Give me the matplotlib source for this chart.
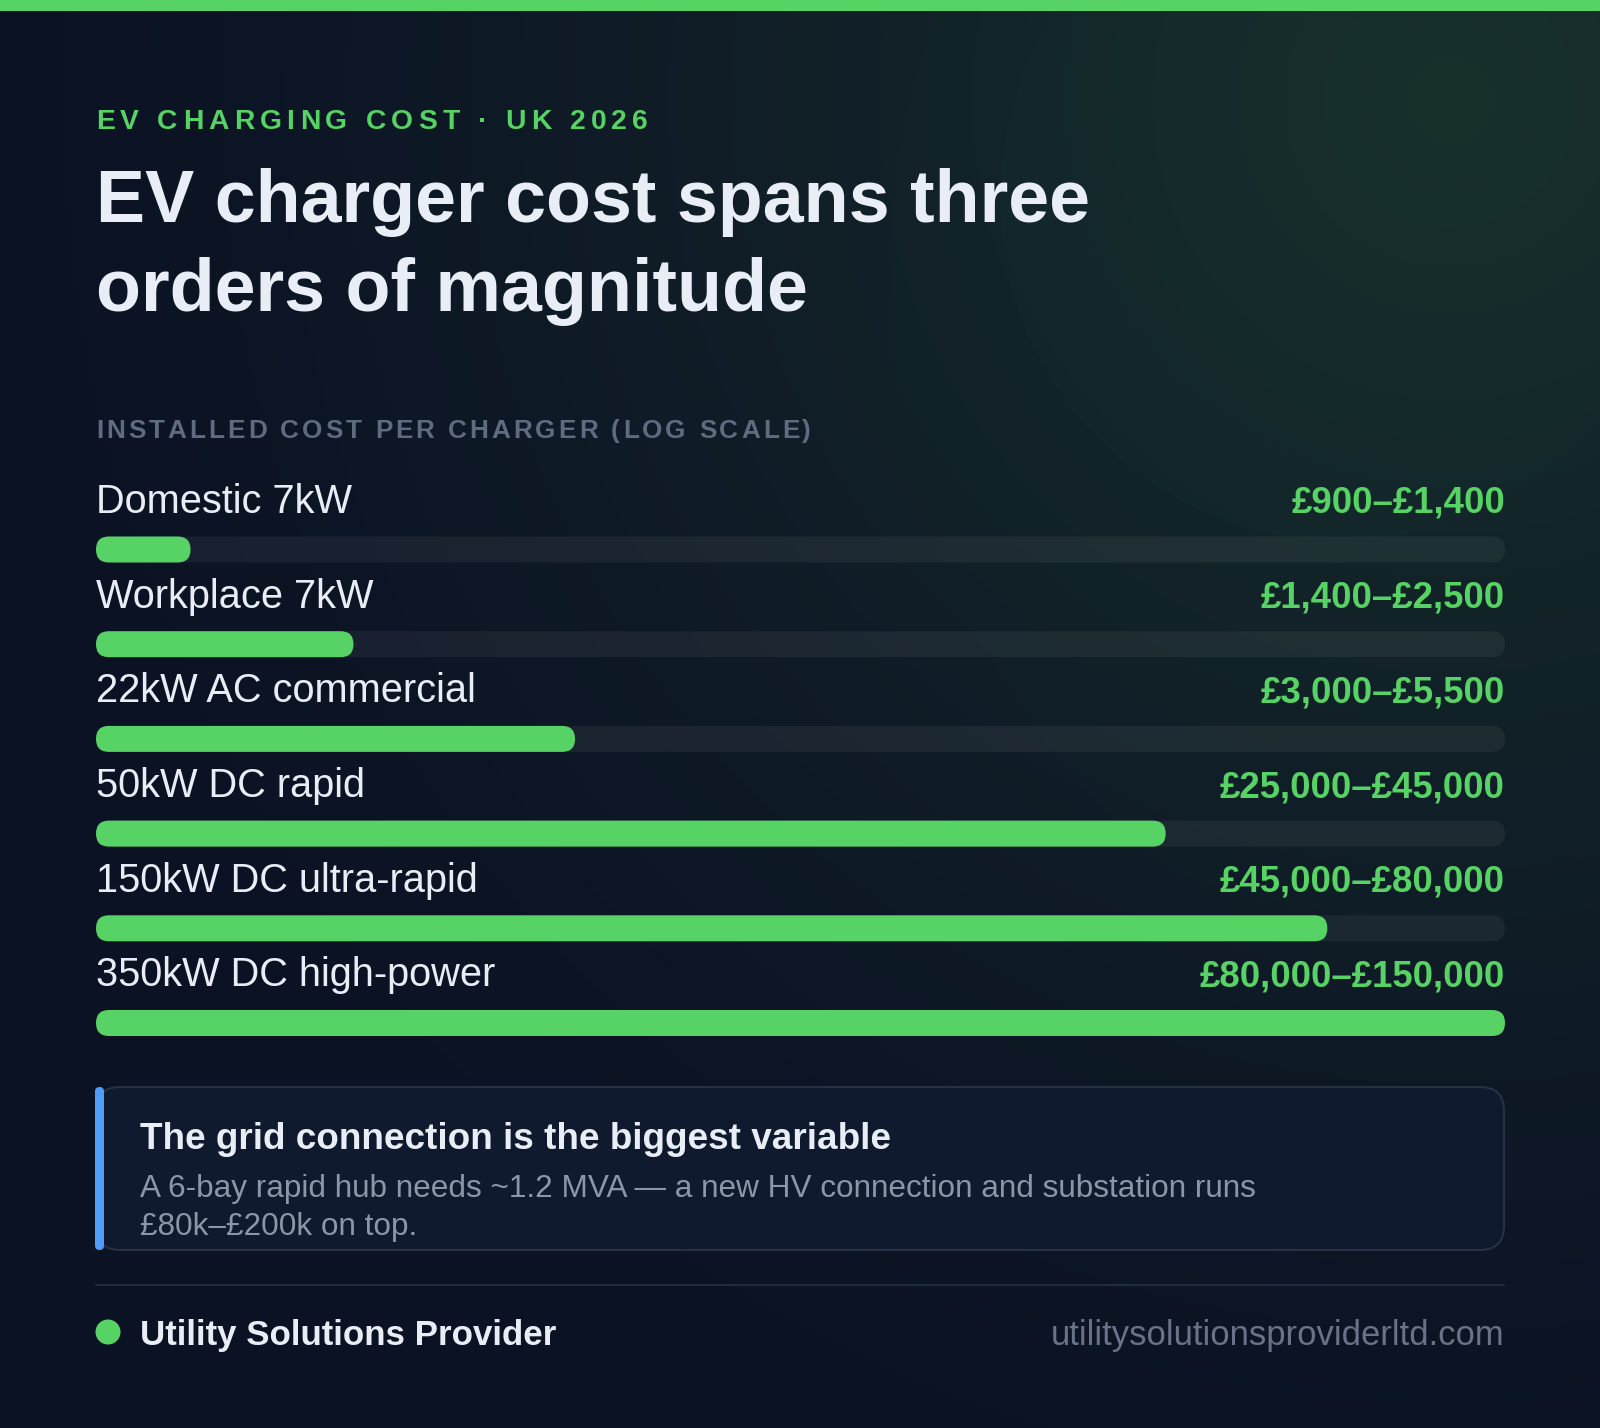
import numpy as np
import matplotlib
matplotlib.use("Agg")
import matplotlib.pyplot as plt
from matplotlib.patches import FancyBboxPatch, Circle, Rectangle
from matplotlib.font_manager import FontProperties
from matplotlib.textpath import TextToPath

# ---------------- data ----------------
eyebrow = "EV CHARGING COST · UK 2026"
title_lines = ["EV charger cost spans three", "orders of magnitude"]
axis_caption = "INSTALLED COST PER CHARGER (LOG SCALE)"
categories = ["Domestic 7kW", "Workplace 7kW", "22kW AC commercial",
              "50kW DC rapid", "150kW DC ultra-rapid", "350kW DC high-power"]
cost_low = [900, 1400, 3000, 25000, 45000, 80000]
cost_high = [1400, 2500, 5500, 45000, 80000, 150000]
scale_min, scale_max = 1000, 150000
note_title = "The grid connection is the biggest variable"
note_lines = ["A 6-bay rapid hub needs ~1.2 MVA — a new HV connection and substation runs",
              "£80k–£200k on top."]
brand = "Utility Solutions Provider"
url = "utilitysolutionsproviderltd.com"

range_labels = [f"£{lo:,}–£{hi:,}" for lo, hi in zip(cost_low, cost_high)]

# ---------------- style ----------------
W, H, DPI = 1600, 1428, 100
FAMILY = ["Liberation Sans", "DejaVu Sans"]
GREEN = "#56d364"
WHITE = "#e9eef6"
CAPTION = "#5f6b81"
BODY = "#8b96a8"
URLC = "#687387"
BLUE = "#4f9df7"

fig = plt.figure(figsize=(W / DPI, H / DPI), dpi=DPI)
ax = fig.add_axes([0, 0, 1, 1])
ax.set_xlim(0, W)
ax.set_ylim(H, 0)
ax.axis("off")

# background gradient
yy, xx = np.mgrid[0:H, 0:W]
base = np.array([11, 18, 36]) / 255.0
tint = np.array([24, 46, 44]) / 255.0
d = np.hypot(xx - 1450, yy - 100)
w = np.clip(1 - d / 1500, 0, 1) ** 1.3
img = base * (1 - w[..., None]) + tint * w[..., None]
ax.imshow(img, extent=(0, W, H, 0), zorder=0, interpolation="bilinear")
ax.add_patch(Circle((1340, 200), 340, color=(0.35, 0.85, 0.55), alpha=0.011, lw=0, zorder=0.5))
ax.add_patch(Circle((1650, 280), 760, color=(0.35, 0.85, 0.55), alpha=0.008, lw=0, zorder=0.5))
ax.set_xlim(0, W)
ax.set_ylim(H, 0)

# top bar
ax.add_patch(Rectangle((0, 0), W, 11, color=GREEN, lw=0, zorder=2))

ttp = TextToPath()


def width_px(s, size, weight):
    fp = FontProperties(family=FAMILY, size=size, weight=weight)
    wpt, _, _ = ttp.get_text_width_height_descent(s, fp, ismath=False)
    return wpt * DPI / 72.0


def fit_size(s, target, weight):
    return 10.0 * target / width_px(s, 10.0, weight)


def spaced_text(x, y, s, size, weight, color, target):
    base_w = width_px("HH", size, weight)
    adv = [width_px("H" + c + "H", size, weight) - base_w for c in s]
    sp = (target - sum(adv)) / (len(s) - 1)
    pos = x
    for c, a in zip(s, adv):
        if c != " ":
            ax.text(pos, y, c, fontsize=size, fontweight=weight, color=color,
                    family=FAMILY, ha="left", va="baseline", zorder=3)
        pos += a + sp


def text(x, y, s, size, weight, color, ha="left"):
    ax.text(x, y, s, fontsize=size, fontweight=weight, color=color,
            family=FAMILY, ha=ha, va="baseline", zorder=3)


LEFT, RIGHT = 96, 1504

# eyebrow and title
spaced_text(LEFT, 129, eyebrow, 20.3, "bold", GREEN, 552)
ts = fit_size(title_lines[0], 994, "bold")
text(LEFT, 222, title_lines[0], ts, "bold", WHITE)
text(LEFT, 311, title_lines[1], ts, "bold", WHITE)

# caption
spaced_text(LEFT, 438, axis_caption, 18.8, "bold", CAPTION, 715)

# bars on a log scale axis (used for x positions)
bax = fig.add_axes([LEFT / W, 0.0, (RIGHT - LEFT) / W, 0.01])
bax.set_xscale("log")
bax.set_xlim(scale_min, scale_max)
bax.axis("off")

lab_size = fit_size(categories[0], 256, "normal")
val_size = fit_size(range_labels[-1], 306, "bold")
row_gap = 94.7
bar_h = 26
for i, (cat, hi, lab) in enumerate(zip(categories, cost_high, range_labels)):
    base_y = 513 + row_gap * i
    yc = 549.5 + row_gap * i
    text(LEFT, base_y, cat, lab_size, "normal", WHITE)
    text(RIGHT + 1, base_y, lab, val_size, "bold", GREEN, ha="right")
    x0 = bax.transData.transform((scale_min, 0))[0]
    x1 = bax.transData.transform((hi, 0))[0]
    ax.add_patch(FancyBboxPatch((x0, yc - bar_h / 2), RIGHT + 1 - x0, bar_h,
                                boxstyle=f"round,pad=0,rounding_size={bar_h/2}",
                                fc=(1, 1, 1, 0.055), ec="none", zorder=2))
    ax.add_patch(FancyBboxPatch((x0, yc - bar_h / 2), max(x1 + (1 if hi == scale_max else 0) - x0, bar_h), bar_h,
                                boxstyle=f"round,pad=0,rounding_size={bar_h/2}",
                                fc=GREEN, ec="none", zorder=2.5))

# callout box
ax.add_patch(FancyBboxPatch((LEFT, 1087), RIGHT - LEFT, 163,
                            boxstyle="round,pad=0,rounding_size=24",
                            fc="#101a2e", ec="#263244", lw=1.5, zorder=2))
ax.add_patch(FancyBboxPatch((LEFT - 1, 1087), 9, 163,
                            boxstyle="round,pad=0,rounding_size=4.5",
                            fc=BLUE, ec="none", zorder=2.6))
nts = fit_size(note_title, 749, "bold")
text(140, 1149, note_title, nts, "bold", WHITE)
bs = fit_size(note_lines[0], 1115, "normal")
text(140, 1197, note_lines[0], bs, "normal", BODY)
text(140, 1235, note_lines[1], bs, "normal", BODY)

# separator and footer
ax.plot([LEFT, RIGHT], [1285, 1285], color="#1f2b3a", lw=1.5, zorder=2)
ax.add_patch(Circle((108, 1332), 12.5, color=GREEN, lw=0, zorder=3))
text(140, 1345, brand, fit_size(brand, 417, "bold"), "bold", WHITE)
text(RIGHT, 1345, url, fit_size(url, 453, "normal"), "normal", URLC, ha="right")

fig.savefig("out.png", dpi=DPI)
